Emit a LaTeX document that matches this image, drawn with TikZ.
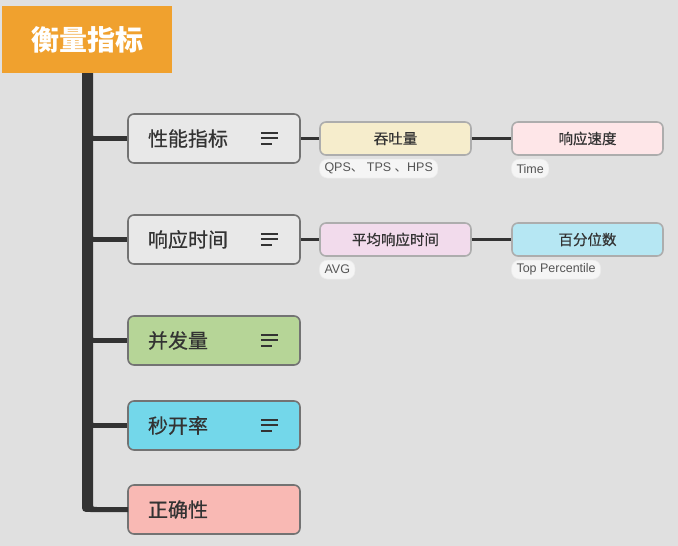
\documentclass[tikz,border=0pt]{standalone}
\usepackage{fontspec}
\newfontfamily\cjk{Noto Sans CJK SC}
\newfontfamily\cjkm[FakeBold=0.5]{Noto Sans CJK SC}
\newfontfamily\lat{Liberation Sans}
\usetikzlibrary{calc}
\definecolor{bg}{HTML}{E0E0E0}
\definecolor{rootc}{HTML}{F0A12E}
\definecolor{trunkc}{HTML}{333333}
\definecolor{lgray}{HTML}{E8E8E8}
\definecolor{lgreen}{HTML}{B6D597}
\definecolor{lcyan}{HTML}{73D7EA}
\definecolor{lpink}{HTML}{F9B9B4}
\definecolor{cyellow}{HTML}{F6EDCC}
\definecolor{cpink}{HTML}{FEE6E8}
\definecolor{cviolet}{HTML}{F2DBEC}
\definecolor{cblue}{HTML}{B6E7F3}
\definecolor{txt}{HTML}{333333}
\definecolor{tagtxt}{HTML}{555555}
\tikzset{
  rootbox/.style={fill=rootc, text=white, font=\cjk\bfseries\fontsize{28}{30}\selectfont, minimum width=170pt, minimum height=67pt, inner sep=0pt},
  topic/.style={draw=black!55, line width=1.6pt, rounded corners=6pt, minimum width=172pt, minimum height=49pt, inner sep=0pt, text width=132pt, align=left, text=txt, font=\cjkm\fontsize{20}{22}\selectfont},
  sub/.style={draw=black!32, line width=1.6pt, rounded corners=6pt, minimum width=151pt, minimum height=33pt, inner sep=0pt, align=center, text=txt, font=\cjkm\fontsize{14.5}{16}\selectfont},
  tag/.style={draw=white!92!black, line width=0.6pt, fill=white!96!black, rounded corners=8pt, minimum height=19pt, inner xsep=5pt, inner ysep=0pt, text=tagtxt, font=\lat\fontsize{12.5}{14}\selectfont, anchor=north west},
  branch/.style={draw=trunkc, line width=4.5pt},
  link/.style={draw=trunkc, line width=3pt},
  menuline/.style={draw=txt, line width=2pt},
}
\newcommand{\menuicon}[1]{%
  \draw[menuline] ($(#1.east)+(-40,-6)$) -- ($(#1.east)+(-23,-6)$);
  \draw[menuline] ($(#1.east)+(-40,-1)$) -- ($(#1.east)+(-23,-1)$);
  \draw[menuline] ($(#1.east)+(-40,5)$) -- ($(#1.east)+(-29,5)$);
}
\begin{document}
\begin{tikzpicture}[x=1pt,y=-1pt]
\fill[bg] (0,0) rectangle (678,546);
\useasboundingbox (0,0) rectangle (678,546);

% level-1 topics
\node[topic, fill=lgray] (t1) at (214,138.5) {性能指标};
\node[topic, fill=lgray] (t2) at (214,239.5) {响应时间};
\node[topic, fill=lgreen] (t3) at (214,340.5) {并发量};
\node[topic, fill=lcyan] (t4) at (214,425.5) {秒开率};
\node[topic, fill=lpink] (t5) at (214,509.5) {正确性};

% trunk with rounded bottom corner into the last branch
\coordinate (tk) at (82,73);
\fill[trunkc] (tk) -- (82,503) .. controls (82,512) .. (91,512) -- ($(t5.west)+(1,2.5)$) -- ($(t5.west)+(1,-2.5)$)
  -- (97,507) .. controls (93,507) .. (93,503) -- (93,73) -- cycle;

% root
\node[rootbox] (root) at (87,39.5) {衡量指标};

% branches
\foreach \t in {t1,t2,t3,t4}{
  \coordinate (j\t) at ($(\t.west)+(-35,0)$);
  \draw[branch] (j\t) -- (\t.west);
  \fill[trunkc] ($(j\t)+(0,-7)$) .. controls ($(j\t)+(0,-2.25)$) .. ($(j\t)+(5,-2.25)$) -- ($(j\t)+(0,-2.25)$) -- cycle;
}

% menu icons
\menuicon{t1}
\menuicon{t2}
\menuicon{t3}
\menuicon{t4}

% level-2
\node[sub, fill=cyellow] (s1) at (395.5,138.5) {吞吐量};
\node[sub, fill=cpink] (s2) at (587.5,138.5) {响应速度};
\node[sub, fill=cviolet] (s3) at (395.5,239.5) {平均响应时间};
\node[sub, fill=cblue] (s4) at (587.5,239.5) {百分位数};

\draw[link] (t1.east) -- (s1.west);
\draw[link] (s1.east) -- (s2.west);
\draw[link] (t2.east) -- (s3.west);
\draw[link] (s3.east) -- (s4.west);

% tags
\node[tag] (g1) at ($(s1.south west)+(0,3)$) {QPS{\cjk 、} TPS {\cjk 、}HPS};
\node[tag] (g2) at ($(s2.south west)+(0,3)$) {Time};
\node[tag] (g3) at ($(s3.south west)+(0,3)$) {AVG};
\node[tag] (g4) at ($(s4.south west)+(0,3)$) {Top Percentile};
\end{tikzpicture}
\end{document}
